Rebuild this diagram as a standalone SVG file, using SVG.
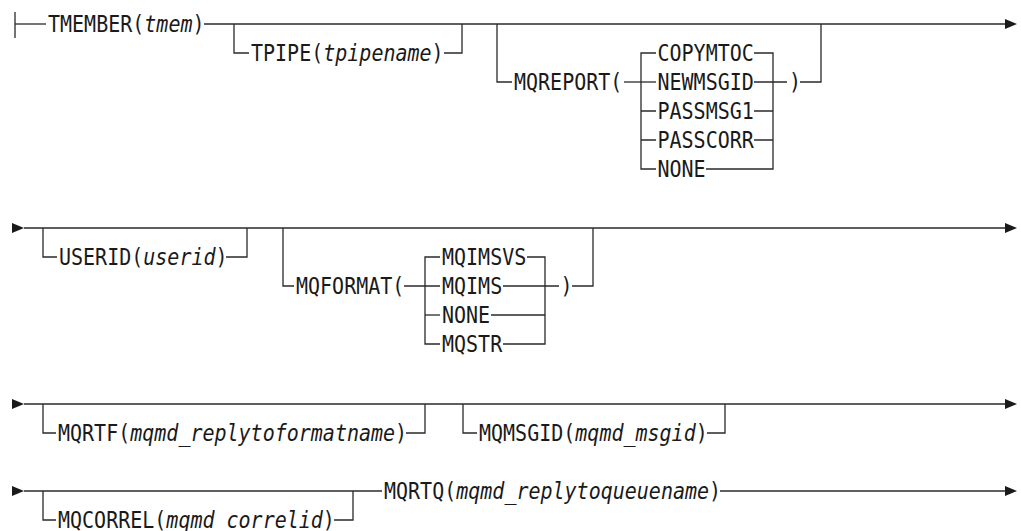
<svg xmlns="http://www.w3.org/2000/svg" width="1021" height="531" viewBox="0 0 1021 531">
<style>
text{font-family:"DejaVu Sans Mono","Liberation Mono",monospace;font-size:20px;fill:#1a1a1a}
.v{font-style:italic}
.ln{fill:none;stroke:#2a2a2a;stroke-width:1.3}
.ah{fill:#1a1a1a}
</style>
<defs>
<path id="arr" d="M0,-5 L12,0 L0,5 Z"/>
</defs>
<rect width="1021" height="531" fill="#fff"/>
<g id="connectors" class="ln">
<path d="M15,12 V38"/>
<path d="M15,24 H46"/>
<path d="M204,24 H1006"/>
<path d="M234,24 V53 H249"/>
<path d="M444,53 H462 V24"/>
<path d="M497,24 V82 H512"/>
<path d="M624,82 H656"/>
<path d="M656,53 H641 V169 H656"/>
<path d="M641,111 H656 M641,140 H656"/>
<path d="M754,53 H773 V169 H706"/>
<path d="M754,82 H787 M754,111 H773 M754,140 H773"/>
<path d="M800,82 H821 V24"/>
<path d="M24,228 H1006"/>
<path d="M43,228 V257 H57"/>
<path d="M226,257 H247 V228"/>
<path d="M283,228 V286 H294"/>
<path d="M404,286 H440"/>
<path d="M440,257 H425 V344 H440"/>
<path d="M425,315 H440"/>
<path d="M527,257 H545 V344 H503"/>
<path d="M503,286 H559 M491,315 H545"/>
<path d="M572,286 H593 V228"/>
<path d="M24,404 H1006"/>
<path d="M43,404 V433 H56"/>
<path d="M406,433 H425 V404"/>
<path d="M463,404 V433 H477"/>
<path d="M707,433 H725 V404"/>
<path d="M24,491 H382"/>
<path d="M720,491 H1006"/>
<path d="M43,491 V520 H56"/>
<path d="M334,520 H353 V491"/>
</g>
<g id="arrowheads" class="ah">
<use href="#arr" x="1005" y="24"/>
<use href="#arr" x="12" y="228"/>
<use href="#arr" x="1005" y="228"/>
<use href="#arr" x="12" y="404"/>
<use href="#arr" x="1005" y="404"/>
<use href="#arr" x="12" y="491"/>
<use href="#arr" x="1005" y="491"/>
</g>
<g id="tmember"><text x="48" y="32" transform="matrix(1 0 0 1.15 0 -4.8)">TMEMBER(<tspan class="v">tmem</tspan>)</text></g>
<g id="tpipe"><text x="251" y="61" transform="matrix(1 0 0 1.15 0 -9.15)">TPIPE(<tspan class="v">tpipename</tspan>)</text></g>
<g id="mqreport"><text x="514" y="90" transform="matrix(1 0 0 1.15 0 -13.5)">MQREPORT(</text></g>
<g id="copymtoc"><text x="657.5" y="61" transform="matrix(1 0 0 1.15 0 -9.15)">COPYMTOC</text></g>
<g id="newmsgid"><text x="657.5" y="90" transform="matrix(1 0 0 1.15 0 -13.5)">NEWMSGID</text></g>
<g id="passmsg1"><text x="657.5" y="119" transform="matrix(1 0 0 1.15 0 -17.85)">PASSMSG1</text></g>
<g id="passcorr"><text x="657.5" y="148" transform="matrix(1 0 0 1.15 0 -22.2)">PASSCORR</text></g>
<g id="none1"><text x="657.5" y="177" transform="matrix(1 0 0 1.15 0 -26.55)">NONE</text></g>
<g id="mqreport-close"><text x="789" y="90" transform="matrix(1 0 0 1.15 0 -13.5)">)</text></g>
<g id="userid"><text x="59" y="265" transform="matrix(1 0 0 1.15 0 -39.75)">USERID(<tspan class="v">userid</tspan>)</text></g>
<g id="mqformat"><text x="296" y="294" transform="matrix(1 0 0 1.15 0 -44.1)">MQFORMAT(</text></g>
<g id="mqimsvs"><text x="442" y="265" transform="matrix(1 0 0 1.15 0 -39.75)">MQIMSVS</text></g>
<g id="mqims"><text x="442" y="294" transform="matrix(1 0 0 1.15 0 -44.1)">MQIMS</text></g>
<g id="none2"><text x="442" y="323" transform="matrix(1 0 0 1.15 0 -48.45)">NONE</text></g>
<g id="mqstr"><text x="442" y="352" transform="matrix(1 0 0 1.15 0 -52.8)">MQSTR</text></g>
<g id="mqformat-close"><text x="560.5" y="294" transform="matrix(1 0 0 1.15 0 -44.1)">)</text></g>
<g id="mqrtf"><text x="58" y="441" transform="matrix(1 0 0 1.15 0 -66.15)">MQRTF(<tspan class="v">mqmd_replytoformatname</tspan>)</text></g>
<g id="mqmsgid"><text x="479" y="441" transform="matrix(1 0 0 1.15 0 -66.15)">MQMSGID(<tspan class="v">mqmd_msgid</tspan>)</text></g>
<g id="mqcorrel"><text x="58" y="528" transform="matrix(1 0 0 1.15 0 -79.2)">MQCORREL(<tspan class="v">mqmd_correlid</tspan>)</text></g>
<g id="mqrtq"><text x="384" y="499" transform="matrix(1 0 0 1.15 0 -74.85)">MQRTQ(<tspan class="v">mqmd_replytoqueuename</tspan>)</text></g>
</svg>
